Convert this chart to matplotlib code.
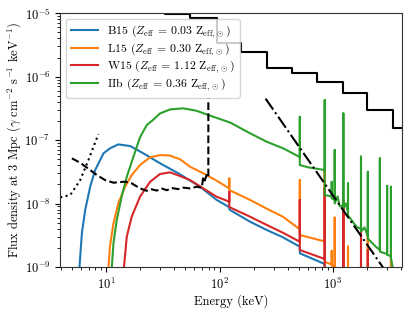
import matplotlib
matplotlib.use("Agg")
import matplotlib.pyplot as plt
import numpy as np

plt.rcParams['font.family'] = 'serif'
plt.rcParams['font.serif'] = ['cmr10', 'DejaVu Serif']
plt.rcParams['mathtext.fontset'] = 'cm'
plt.rcParams['axes.formatter.use_mathtext'] = True
plt.rcParams['font.size'] = 9
plt.rcParams['axes.edgecolor'] = '#333333'

# model spectra: (energy keV, flux density)
b15 = [(5.7, 6e-10), (6.11, 3.43e-9), (6.53, 7.9e-9), (7.23, 1.84e-8), (8.0, 3.37e-8),
       (9.47, 6.18e-8), (10.8, 7.4e-8), (12.8, 8.55e-8), (16.3, 8.05e-8), (21.3, 6.18e-8),
       (29.9, 4.3e-8), (43.4, 2.99e-8), (67.3, 1.84e-8), (94.4, 1.14e-8), (121.5, 8.8e-9),
       (122.5, 8.0e-9), (186, 5.17e-9), (261, 3.83e-9), (362, 2.94e-9), (510, 2.09e-9),
       (512, 1.64e-9), (822, 1.14e-9), (846, 1.1e-9), (848, 5e-10)]

l15 = [(10.4, 8e-10), (10.8, 2.09e-9), (11.6, 4.88e-9), (12.8, 1.01e-8), (14.7, 1.84e-8),
       (16.8, 2.81e-8), (19.9, 4.04e-8), (24.4, 5.34e-8), (29.9, 5.8e-8), (36.6, 5.7e-8),
       (44.9, 4.97e-8), (55.0, 3.8e-8), (72.0, 2.99e-8), (94.4, 2.29e-8),
       (122, 1.73e-8), (122, 2.49e-8), (122, 1.63e-8), (186, 1.14e-8), (261, 8.3e-9),
       (362, 6.2e-9), (511, 3.93e-9), (511, 2.34e-8), (511, 3.19e-9), (817, 2.57e-9),
       (847, 2.5e-9), (847, 3.37e-8), (847, 1.2e-9), (977, 1.1e-9), (977, 1.8e-9),
       (977, 1.05e-9), (1038, 1.0e-9), (1038, 6e-9), (1038, 9e-10), (1238, 8e-10),
       (1238, 1.0e-8), (1238, 7e-10), (1360, 7e-10), (1360, 2.1e-9), (1360, 6e-10),
       (2034, 6e-10), (2034, 3.2e-9), (2034, 5e-10), (3253, 5e-10), (3253, 1.55e-9),
       (3253, 5e-10)]

w15 = [(14.0, 6e-10), (15.2, 3.0e-9), (16.8, 6.2e-9), (19.9, 1.28e-8), (24.4, 2.2e-8),
       (29.9, 2.92e-8), (36.6, 3.1e-8), (44.9, 2.71e-8), (55.0, 2.34e-8), (72.0, 1.73e-8),
       (94.4, 1.28e-8), (122, 1.07e-8), (122, 1.52e-8), (122, 8.8e-9), (186, 6.2e-9),
       (261, 4.6e-9), (362, 3.47e-9), (511, 2.5e-9), (511, 1.14e-8), (511, 1.85e-9),
       (817, 1.37e-9), (847, 1.35e-9), (847, 1.75e-8), (847, 5e-10), (1238, 5e-10),
       (1238, 1.1e-8), (1238, 5e-10), (1771, 5e-10), (1771, 3.4e-9), (1771, 5e-10),
       (2034, 5e-10), (2034, 1.85e-9), (2034, 5e-10)]

iib = [(11.0, 6e-10), (11.6, 2.36e-9), (12.4, 5.5e-9), (13.7, 1.28e-8), (15.2, 2.64e-8),
       (17.4, 5.46e-8), (19.9, 1.11e-7), (22.8, 1.72e-7), (26.1, 2.1e-7), (29.9, 2.63e-7),
       (36.6, 3.04e-7), (48.0, 3.16e-7), (63.0, 2.89e-7), (79.7, 2.48e-7), (124, 1.89e-7),
       (186, 1.28e-7), (261, 9.4e-8), (365, 7.4e-8), (511, 5.4e-8), (511, 2.33e-7),
       (511, 4.04e-8), (605, 3.72e-8), (847, 3.37e-8), (847, 4.27e-7), (847, 1.36e-8),
       (977, 1.3e-8), (977, 2.2e-8), (977, 1.2e-8), (1038, 1.15e-8), (1038, 7e-8),
       (1038, 1.0e-8), (1100, 1.3e-8), (1150, 9e-9), (1238, 9.5e-9), (1238, 2.63e-7),
       (1238, 8.5e-9), (1300, 1.0e-8), (1360, 7.3e-9), (1360, 2.08e-8), (1360, 6.5e-9),
       (1618, 4.3e-9), (1771, 3.96e-9), (1771, 5.5e-8), (1771, 3.6e-9), (1900, 4.2e-9),
       (2034, 3.08e-9), (2034, 3.17e-8), (2034, 2.8e-9), (2393, 2.09e-9), (2598, 1.85e-9),
       (2598, 5.15e-8), (2598, 1.75e-9), (3010, 1.6e-9), (3010, 1.9e-8), (3010, 1.55e-9),
       (3253, 1.49e-9), (3253, 1.84e-8), (3253, 1.4e-9), (3600, 5e-10)]

# instrument sensitivities
step_E = [20, 33.1, 55.0, 94.4, 153.7, 260.6, 432.5, 718, 1217, 1982, 3399, 4100]
step_F = [2e-5, 9.54e-6, 8.34e-6, 3.37e-6, 2.46e-6, 1.35e-6, 1.12e-6, 8.28e-7, 5.56e-7,
          2.97e-7, 1.53e-7, 1.53e-7]

dashed = [(4.99, 5.15e-8), (5.90, 4.39e-8), (7.23, 3.37e-8), (8.28, 2.81e-8), (9.80, 2.34e-8),
          (11.6, 2.13e-8), (14.7, 2.21e-8), (16.8, 2.08e-8), (19.9, 1.73e-8), (22.8, 1.59e-8),
          (25, 1.68e-8), (28.0, 1.6e-8), (31, 1.72e-8), (34.3, 1.62e-8), (38, 1.75e-8),
          (43.4, 1.69e-8), (48, 1.78e-8), (55.0, 1.73e-8), (63.0, 1.84e-8), (69.7, 1.77e-8),
          (72.0, 2.64e-8), (74, 2.3e-8), (77.1, 2.81e-8), (79.7, 2.6e-8), (79.7, 4.6e-7)]

dotted = [(3.93, 1.25e-8), (4.82, 1.36e-8), (5.90, 2.34e-8), (6.98, 4.84e-8),
          (7.73, 7.84e-8), (8.55, 1.24e-7)]

dashdot = [(255, 4.5e-7), (3000, 8e-10)]

labels = [r'B15 ($Z_{\rm eff}$ = 0.03 Z$_{\rm eff,\odot}$)',
          r'L15 ($Z_{\rm eff}$ = 0.30 Z$_{\rm eff,\odot}$)',
          r'W15 ($Z_{\rm eff}$ = 1.12 Z$_{\rm eff,\odot}$)',
          r'IIb ($Z_{\rm eff}$ = 0.36 Z$_{\rm eff,\odot}$)']
colors = ['C0', 'C1', 'C3', 'C2']

fig, ax = plt.subplots(figsize=(4.15, 3.13), dpi=100)
fig.subplots_adjust(left=0.145, right=0.968, top=0.958, bottom=0.147)

for data, lab, c in zip([b15, l15, w15, iib], labels, colors):
    e, f = np.array(data).T
    ax.plot(e, f, color=c, lw=1.5, label=lab)

ax.step(step_E, step_F, where='post', color='k', lw=1.5)
e, f = np.array(dashed).T
ax.plot(e, f, 'k--', lw=1.5)
e, f = np.array(dotted).T
ax.plot(e, f, 'k:', lw=1.5)
e, f = np.array(dashdot).T
ax.plot(e, f, 'k-.', lw=1.5)

ax.set_xscale('log')
ax.set_yscale('log')
ax.set_xlim(3.93, 4050)
ax.set_ylim(1e-9, 1e-5)
ax.set_xlabel('Energy (keV)', labelpad=2)
ax.set_ylabel(r'Flux density at 3 Mpc ($\gamma$ cm$^{-2}$ s$^{-1}$ keV$^{-1}$)', labelpad=1)
ax.legend(loc='upper left', framealpha=0.8, fontsize=8.5, labelspacing=0.1,
          handlelength=2.3)

plt.savefig('out.png', dpi=100)
